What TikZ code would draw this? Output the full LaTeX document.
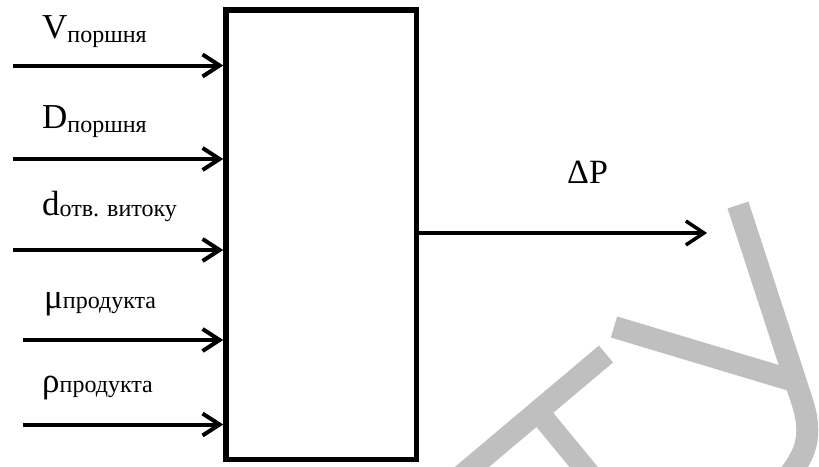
\documentclass[tikz,border=0pt]{standalone}
\usepackage{fontspec}
\setmainfont{Liberation Serif}
\usetikzlibrary{arrows.meta}
\newcommand\mylbl[3][-4pt]{{\fontsize{35}{35}\selectfont #2}\raisebox{#1}{\fontsize{24}{24}\selectfont #3}}
\begin{document}
\begin{tikzpicture}[x=1pt,y=-1pt,
  wm/.style={line width=22pt, draw=black!25},
  inarrow/.style={line width=4pt, -{Straight Barb[length=17pt,width=22pt]}},
  outarrow/.style={line width=3.5pt, -{Straight Barb[length=18pt,width=24pt]}},
  lbl/.style={anchor=base west, inner sep=0pt}]
\useasboundingbox (0,0) rectangle (819,466);
% watermark
\begin{scope}
\clip (0,0) rectangle (819,466);
\draw[wm] (606,354) -- (460,477);
\draw[wm] (540,414) -- (610,499);
\draw[wm] (738,205) -- (801,398) .. controls (814,436) and (806,455) .. (785,480);
\draw[wm] (614,327) -- (794,381);
\end{scope}
% block
\node[draw, line width=5.5pt, minimum width=190.5pt, minimum height=449.5pt, inner sep=0pt] (box) at (321.25,234.75) {};
% inputs
\coordinate (i1) at (13,65.5);
\coordinate (i2) at (13,159);
\coordinate (i3) at (13,250);
\coordinate (i4) at (23,340);
\coordinate (i5) at (23,424.5);
\foreach \i in {1,...,5} \draw[inarrow] (i\i) -- (i\i -| box.west);
% output
\coordinate (o) at (707,233);
\draw[outarrow] (box.east |- o) -- (o);
% labels
\node[lbl] (l1) at (42,38) {\mylbl{V}{поршня}};
\node[lbl] (l2) at (42,128) {\mylbl{D}{поршня}};
\node[lbl] (l3) at (42,215) {\mylbl[-1.5pt]{d}{отв. витоку}};
\node[lbl] (l4) at (44,308) {\mylbl[0pt]{μ}{продукта}};
\node[lbl] (l5) at (42,392) {\mylbl[0pt]{ρ}{продукта}};
\node[lbl] (dp) at (567,183) {\fontsize{34}{34}\selectfont ΔP};
\end{tikzpicture}
\end{document}
